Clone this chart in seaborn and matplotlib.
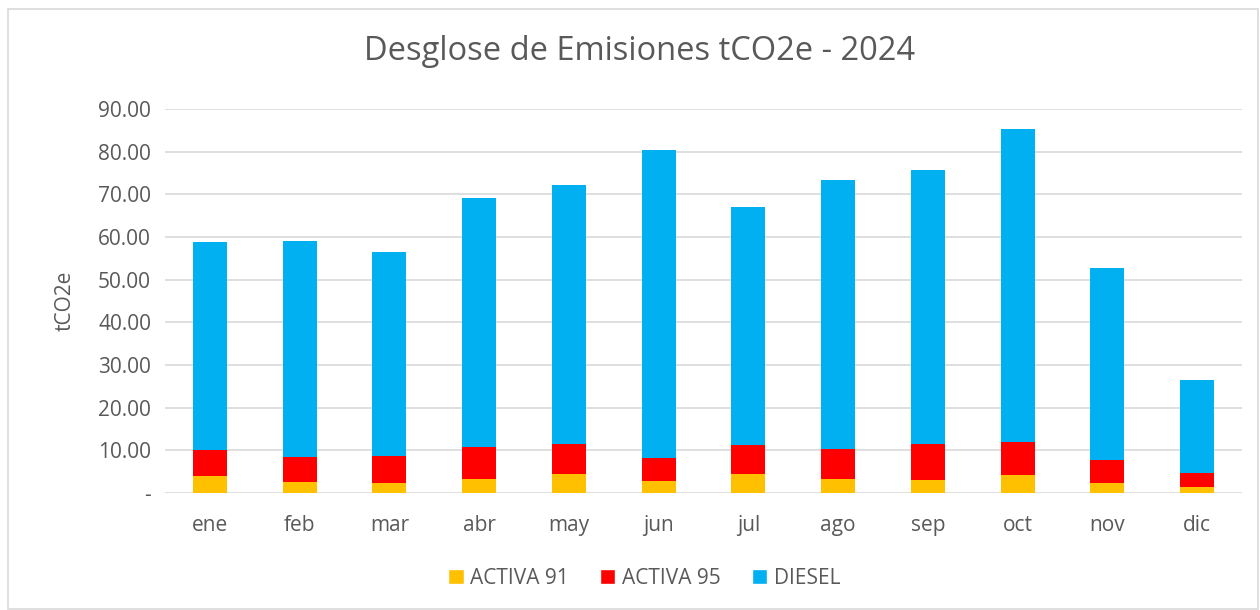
import matplotlib
matplotlib.use('Agg')
import matplotlib.pyplot as plt
import numpy as np
import seaborn as sns
from matplotlib.patches import Rectangle, Patch


# Data

months = ['ene', 'feb', 'mar', 'abr', 'may', 'jun', 'jul', 'ago', 'sep', 'oct', 'nov', 'dic']
activa_91 = [4.1, 2.5, 2.35, 3.2, 4.4, 2.8, 4.4, 3.3, 3.0, 4.3, 2.4, 1.5]
activa_95 = [5.9, 5.9, 6.4, 7.65, 7.1, 5.3, 6.9, 7.1, 8.5, 7.7, 5.4, 3.1]
diesel = [48.8, 50.6, 47.7, 58.3, 60.6, 72.2, 55.7, 62.9, 64.1, 73.2, 44.9, 21.9]
series_names = ['ACTIVA 91', 'ACTIVA 95', 'DIESEL']
colors = ['#FFC000', '#FF0000', '#00B0F0']
y_ticks = [0, 10, 20, 30, 40, 50, 60, 70, 80, 90]

sns.set_style('white')
plt.rcParams['font.family'] = ['Open Sans', 'DejaVu Sans']
text_col = '#595959'

fig = plt.figure(figsize=(12.6, 6.1), dpi=100)
ax = fig.add_axes([165 / 1260, 1 - 493 / 610, (1242 - 165) / 1260, (493 - 109) / 610])

# stacked bars: draw cumulative totals back to front
a91 = np.array(activa_91)
a95 = np.array(activa_95)
dsl = np.array(diesel)
layers = [a91 + a95 + dsl, a91 + a95, a91]
for vals, c in zip(layers, colors[::-1]):
    sns.barplot(x=months, y=vals, color=c, width=0.38, saturation=1,
                linewidth=0, ax=ax, zorder=3)

ax.set_ylim(0, 90)
ax.set_yticks(y_ticks)
ax.set_yticklabels(['-' if t == 0 else f'{t:.2f}' for t in y_ticks])
ax.grid(axis='y', color='#D9D9D9', linewidth=1.2, zorder=0)
ax.set_axisbelow(True)
for s in ax.spines.values():
    s.set_visible(False)
ax.tick_params(axis='both', length=0, labelsize=15, labelcolor=text_col)
ax.tick_params(axis='x', pad=16)
ax.tick_params(axis='y', pad=10)
ax.set_xlabel('')
ax.set_ylabel('tCO2e', fontsize=15, color=text_col, labelpad=16)

fig.text(640 / 1260, 1 - 52 / 610, 'Desglose de Emisiones tCO2e - 2024',
         ha='center', va='center', fontsize=23.5, color=text_col)

handles = [Patch(facecolor=c, label=n) for c, n in zip(colors, series_names)]
fig.legend(handles=handles, loc='center', bbox_to_anchor=(644 / 1260, 1 - 578 / 610),
           ncol=3, frameon=False, fontsize=15, handlelength=0.75, handleheight=0.75,
           handletextpad=0.3, columnspacing=1.5, labelcolor=text_col)

fig.patches.append(Rectangle((8 / 1260, 0.002), 1 - 10 / 1260, 1 - 10 / 610,
                             transform=fig.transFigure, fill=False,
                             edgecolor='#D9D9D9', linewidth=1.2))

fig.savefig('out.png', dpi=100)
